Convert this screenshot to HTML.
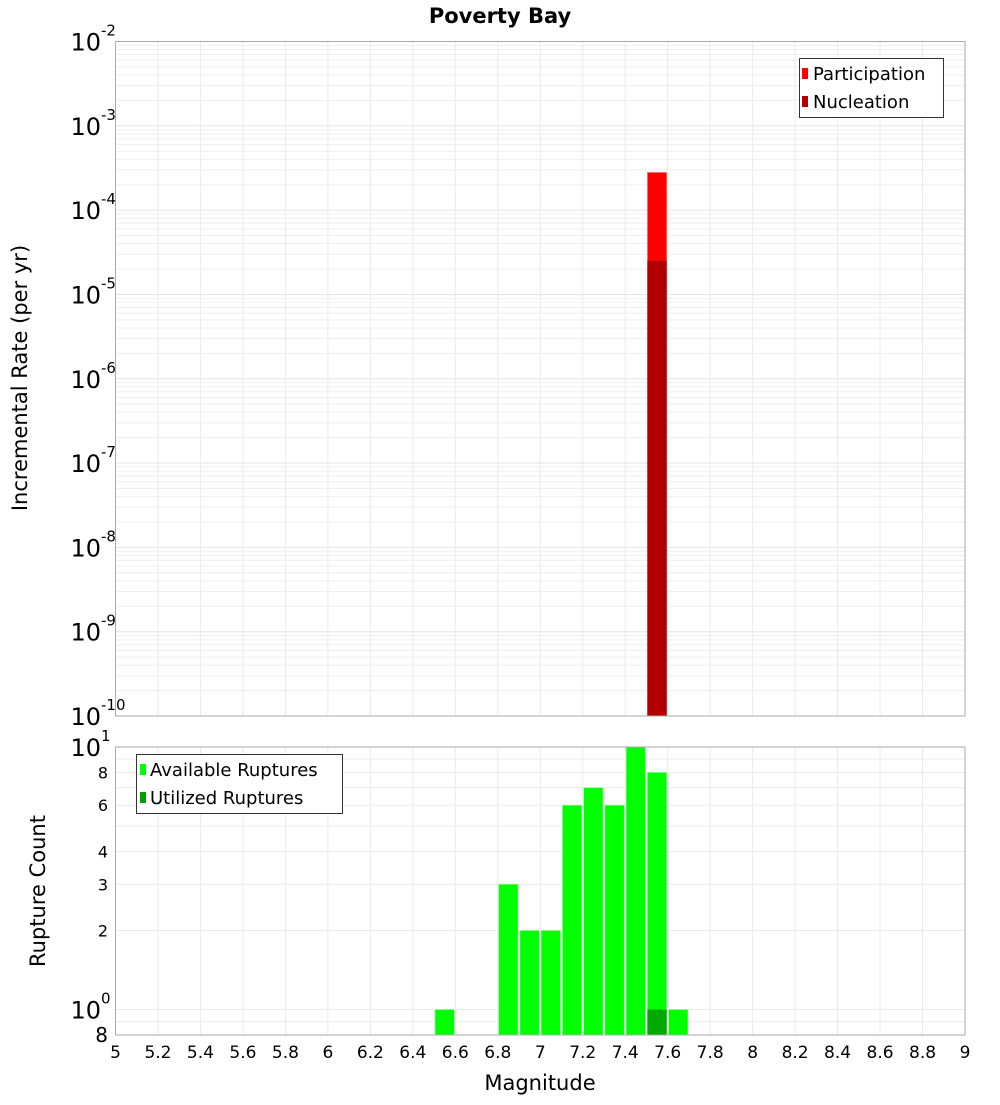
<!DOCTYPE html>
<html><head><meta charset="utf-8"><style>
body{margin:0;background:#fff;font-family:"Liberation Sans","DejaVu Sans",sans-serif}
svg text{font-family:"DejaVu Sans","Liberation Sans",sans-serif}
</style></head><body>
<svg id="c" width="1000" height="1100" xmlns="http://www.w3.org/2000/svg">
<text x="500" y="23" text-anchor="middle" font-size="21" font-weight="bold">Poverty Bay</text>
<text transform="translate(27,378) rotate(-90)" text-anchor="middle" font-size="21">Incremental Rate (per yr)</text>
<text transform="translate(45,891) rotate(-90)" text-anchor="middle" font-size="21">Rupture Count</text>
<text x="540" y="1090" text-anchor="middle" font-size="21">Magnitude</text>
<g id="grid"></g><g id="bars"></g><g id="axes"></g>
<g>
<rect x="799.5" y="58.5" width="144" height="59" fill="#fff" stroke="#333"/>
<rect x="802" y="68" width="6" height="11" fill="#ff0000"/>
<text x="813" y="80" font-size="18">Participation</text>
<rect x="802" y="96" width="6" height="11" fill="#b00000"/>
<text x="813" y="108" font-size="18">Nucleation</text>
</g>
<g>
<rect x="136.5" y="754.5" width="206" height="59" fill="#fff" stroke="#333"/>
<rect x="140" y="764" width="6" height="11" fill="#00ff00"/>
<text x="150" y="776" font-size="18">Available Ruptures</text>
<rect x="140" y="792" width="6" height="11" fill="#00a000"/>
<text x="150" y="804" font-size="18">Utilized Ruptures</text>
</g>
</svg>
<script>
const binCenters=[6.55,6.85,6.95,7.05,7.15,7.25,7.35,7.45,7.55,7.65];
const availableCounts=[1,3,2,2,6,7,6,10,8,1];
const utilizedMags=[7.55];
const utilizedCounts=[1];
const rateMags=[7.55];
const participationRates=[2.8e-4];
const nucleationRates=[2.5e-5];
const xTicks=[5,5.2,5.4,5.6,5.8,6,6.2,6.4,6.6,6.8,7,7.2,7.4,7.6,7.8,8,8.2,8.4,8.6,8.8,9];
const topExps=[-2,-3,-4,-5,-6,-7,-8,-9,-10];
const bottomMinor=[["8",0.8],["2",2],["3",3],["4",4],["6",6],["8",8]];
const NS="http://www.w3.org/2000/svg";
const L=115.5,R=965,T1=41.5,B1=716,T2=747,B2=1035;
const xs=m=>L+(m-5)/4*(R-L);
const y1=v=>T1+(-2-Math.log10(v))/8*(B1-T1);
const lb=Math.log10(0.8);
const y2=v=>B2-(Math.log10(v)-lb)/(1-lb)*(B2-T2);
function mk(g,t,a){const e=document.createElementNS(NS,t);for(const k in a)e.setAttribute(k,a[k]);document.getElementById(g).appendChild(e);return e;}
// grids
for(let d=-10;d<-2;d++)for(let k=1;k<10;k++){const y=y1(k*Math.pow(10,d));const l=mk('grid','line',{x1:L,x2:R,y1:y,y2:y,stroke:k==1?'#e4e4e4':'#efefef'});

}
[0.8,0.9,1,2,3,4,5,6,7,8,9].forEach(v=>{const y=y2(v);const l=mk('grid','line',{x1:L,x2:R,y1:y,y2:y,stroke:'#ebebeb'});

});
xTicks.forEach(m=>{const x=xs(m);[[T1,B1],[T2,B2]].forEach(p=>{const l=mk('grid','line',{x1:x,x2:x,y1:p[0],y2:p[1],stroke:'#ebebeb'});

});});
// bars
const bw=xs(5.1)-xs(5);
rateMags.forEach((m,i)=>{let r=mk('bars','rect',{x:xs(m)-bw/2+1,y:y1(participationRates[i]),width:bw-2,height:B1-y1(participationRates[i]),fill:'#ff0000',stroke:'#ff8080','stroke-width':0.6});


r=mk('bars','rect',{x:xs(m)-bw/2+1,y:y1(nucleationRates[i]),width:bw-2,height:B1-y1(nucleationRates[i]),fill:'#b00000'});

});
binCenters.forEach((m,i)=>{const r=mk('bars','rect',{x:xs(m)-bw/2+1,y:y2(availableCounts[i]),width:bw-2,height:B2-y2(availableCounts[i]),fill:'#00ff00',stroke:'#80ff80','stroke-width':0.6});

});
utilizedMags.forEach((m,i)=>{const r=mk('bars','rect',{x:xs(m)-bw/2+1,y:y2(utilizedCounts[i]),width:bw-2,height:B2-y2(utilizedCounts[i]),fill:'#00a800'});

});
// frames
[[T1,B1],[T2,B2]].forEach(p=>{const r=mk('axes','rect',{x:L,y:p[0],width:R-L,height:p[1]-p[0],fill:'none',stroke:'#aaa'});

});
// tick labels
xTicks.forEach(m=>{const t=mk('axes','text',{x:xs(m),y:1058,'text-anchor':'middle','font-size':17});t.textContent=String(m);

});
function pow(g,x,y,e,name){const t=mk(g,'text',{x:x,y:y,'text-anchor':'end','font-size':24});t.textContent='10';


const s=mk(g,'text',{x:x,y:y-15,'font-size':15});s.textContent=e;

}
topExps.forEach(e=>{pow('axes',101,y1(Math.pow(10,e))+9,String(e),'top-y-tick-label');});
pow('axes',101,y2(10)+9,'1','bottom-y-tick-label');
pow('axes',101,y2(1)+9,'0','bottom-y-tick-label');
bottomMinor.forEach(p=>{const big=p[1]===0.8;const t=mk('axes','text',{x:108,y:y2(p[1])+(big?7:6),'text-anchor':'end','font-size':big?20:16});t.textContent=p[0];

});
</script>
</body></html>
